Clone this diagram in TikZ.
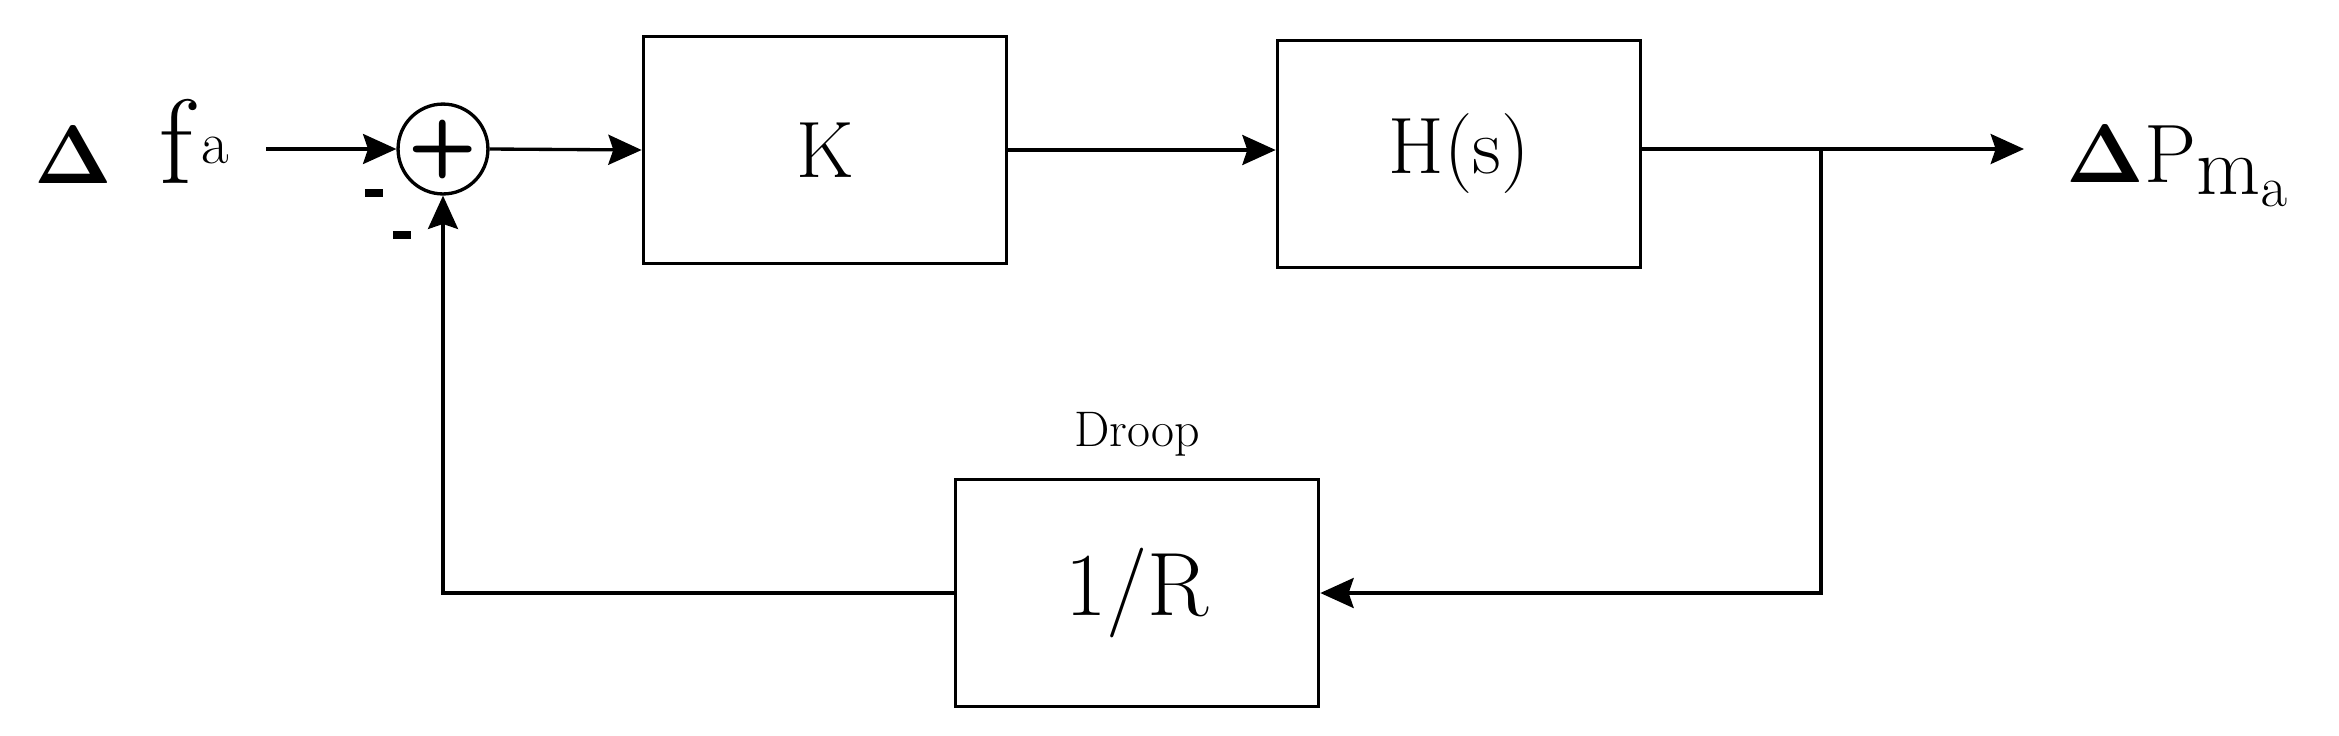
\documentclass[tikz,border=0pt]{standalone}
\usetikzlibrary{arrows.meta}
\begin{document}
\begin{tikzpicture}[x=0.3pt,y=-0.3pt,
  blk/.style={draw,line width=1pt,minimum width=109pt,minimum height=68pt,inner sep=0pt},
  ln/.style={line width=1pt},
  mns/.style={inner sep=0pt},
  arr/.style={ln,-{Stealth[length=10pt,width=9pt,inset=1.5pt]}}]
\useasboundingbox (0,0) rectangle (2339,735);
\node[blk] (K) at (825,150) {\fontsize{24}{28}\selectfont K};
\node[blk] (H) at (1459,154) {\fontsize{24}{28}\selectfont H(s)};
\node[blk] (R) at (1137,593) {\fontsize{27}{30}\selectfont 1/R};
\node[font=\fontsize{15}{17}\selectfont, above=3pt] (droop) at (R.north) {Droop};
\node[draw,circle,line width=1pt,minimum size=26.5pt,inner sep=0pt] (S) at (443,149) {\fontsize{24}{24}\selectfont\sffamily\bfseries +};
\node[font=\fontsize{48}{50}\selectfont,anchor=base] (D1) at (73,183) {$\mathbf{\Delta}$};
\node[font=\fontsize{36}{38}\selectfont,anchor=base] (F) at (176,183) {f};
\node[font=\fontsize{18}{20}\selectfont,anchor=base] (A) at (215,163) {a};
\node[font=\fontsize{33}{36}\selectfont,anchor=base west,inner sep=0pt] (P) at (2066,182) {\fontsize{46}{48}\selectfont$\mathbf{\Delta}$\fontsize{33}{36}\selectfont$\mathrm{P}_{\mathrm{m}_\mathrm{a}}$};
\node[mns] (m1) at (374,193) {\rule{5.5pt}{2.6pt}};
\node[mns] (m2) at (402,235) {\rule{5.5pt}{2.6pt}};
\coordinate (in) at (266,149);
\coordinate (out) at (2024,149);
\coordinate (br) at (1821,149);
\draw[arr] (in) -- (S.west);
\draw[arr] (S.east) -- (K.west);
\draw[arr] (K.east) -- (K.east -| H.west);
\draw[arr] (H.east |- out) -- (out);
\draw[arr] (br) |- (R.east);
\draw[arr] (R.west) -| (S.south);
\end{tikzpicture}
\end{document}
